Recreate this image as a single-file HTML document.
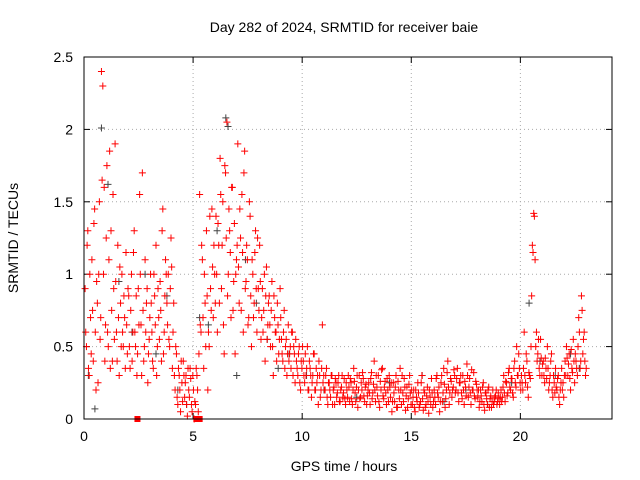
<!DOCTYPE html>
<html><head><meta charset="utf-8"><style>
body{margin:0;background:#fff;}
svg{display:block;font-family:"Liberation Sans",sans-serif;}
</style></head><body>
<svg id="chart" width="640" height="480" viewBox="0 0 640 480">
<rect width="640" height="480" fill="#fff"/>
<text x="344" y="32" font-size="14" text-anchor="middle">Day 282 of 2024, SRMTID for receiver baie</text>
<text transform="translate(18,238) rotate(-90)" font-size="14" text-anchor="middle">SRMTID / TECUs</text>
<text x="344" y="471" font-size="14" text-anchor="middle">GPS time / hours</text>
<g id="grid"></g><g id="ticks"></g><g id="marks"></g>
<rect x="84" y="57" width="528" height="362" fill="none" stroke="#000" stroke-width="1"/>
</svg>
<script>
const xTicks=[0,5,10,15,20];
const yTicks=[0,0.5,1,1.5,2,2.5];
const yTickLabels=["0","0.5","1","1.5","2","2.5"];
const redStart=0.05, redStep=0.0625;
const redValues=[
0.9,0.5,1.3,0.3,0.7,1.1,0.4,1.45,0.2,0.8,1.0,0.55,2.4,2.3,1.6,0.65,
1.75,0.5,1.85,1.3,0.4,0.9,1.9,0.6,1.2,0.3,0.8,1.0,0.5,0.7,1.15,0.45,
0.85,0.35,1.0,0.6,1.3,0.5,0.3,0.9,1.55,0.65,1.7,0.4,1.1,0.8,0.25,0.55,
1.0,0.6,0.35,0.85,1.2,0.5,0.7,0.95,0.4,1.45,0.6,1.1,0.8,1.0,0.5,1.25,
0.35,0.8,0.2,0.45,0.1,0.3,0.05,0.25,0.4,0.15,0.3,0.02,0.2,0.35,0.1,0.3,
0.0,0.1,0.3,0.05,1.55,0.6,1.1,0.35,0.8,1.3,0.2,0.5,0.9,1.45,0.7,1.0,
1.4,0.6,1.2,1.8,0.9,1.5,0.45,1.7,2.05,1.0,1.3,0.7,1.6,0.95,0.45,1.1,
1.9,0.8,1.25,1.55,0.6,1.85,0.95,1.1,0.7,1.4,0.5,1.0,0.8,1.3,0.6,0.9,
1.2,0.55,0.9,0.75,0.4,1.05,0.65,0.85,0.5,0.95,0.3,0.7,0.6,0.8,0.45,0.9,
0.55,0.4,0.75,0.5,0.3,0.65,0.45,0.35,0.6,0.5,0.25,0.4,0.3,0.5,0.2,0.35,
0.4,0.25,0.3,0.5,0.2,0.35,0.15,0.3,0.45,0.2,0.25,0.1,0.3,0.2,0.65,0.3,
0.2,0.35,0.1,0.25,0.15,0.3,0.2,0.1,0.25,0.18,0.3,0.12,0.22,0.15,0.28,0.1,
0.2,0.3,0.12,0.25,0.1,0.35,0.18,0.22,0.08,0.3,0.15,0.2,0.28,0.12,0.24,0.16,
0.25,0.1,0.32,0.18,0.4,0.12,0.22,0.3,0.08,0.2,0.35,0.14,0.26,0.1,0.2,0.3,
0.15,0.05,0.25,0.12,0.3,0.08,0.2,0.35,0.1,0.18,0.28,0.06,0.22,0.14,0.3,0.1,
0.1,0.2,0.05,0.15,0.25,0.08,0.12,0.3,0.06,0.18,0.1,0.22,0.04,0.15,0.28,0.08,
0.2,0.1,0.3,0.15,0.05,0.25,0.12,0.35,0.08,0.2,0.4,0.1,0.28,0.15,0.22,0.3,
0.2,0.35,0.12,0.25,0.18,0.3,0.1,0.22,0.38,0.15,0.28,0.1,0.2,0.32,0.14,0.24,
0.15,0.08,0.2,0.12,0.25,0.06,0.18,0.1,0.22,0.14,0.08,0.2,0.12,0.16,0.1,0.18,
0.1,0.2,0.15,0.3,0.12,0.25,0.18,0.35,0.2,0.28,0.15,0.4,0.22,0.3,0.45,0.25,
0.3,0.2,0.6,0.25,0.4,0.15,0.3,0.5,1.2,1.42,1.1,0.6,0.45,0.35,0.55,0.3,
0.4,0.25,0.35,0.5,0.2,0.3,0.45,0.15,0.25,0.35,0.2,0.3,0.1,0.25,0.2,0.15,
0.4,0.5,0.3,0.45,0.2,0.35,0.55,0.25,0.4,0.3,0.7,0.35,0.85,0.45,0.6,0.3];
const red2Start=0.08, red2Step=0.0625;
const redValues2=[
0.6,1.2,0.35,1.0,0.45,0.75,1.35,0.6,0.95,0.25,1.5,0.7,1.65,1.0,0.4,1.25,
0.6,1.1,0.35,0.75,1.55,0.55,0.95,0.4,0.7,1.05,0.5,0.6,0.85,0.35,0.65,0.9,
0.5,0.75,0.4,1.15,0.6,0.85,0.45,0.65,1.0,0.3,0.75,0.5,0.6,0.9,0.45,0.7,
0.8,0.4,1.0,0.65,0.3,0.9,0.55,0.75,1.3,0.45,0.85,1.0,0.65,0.55,0.9,1.05,
0.6,0.3,0.5,0.15,0.35,0.2,0.4,0.12,0.3,0.25,0.1,0.35,0.15,0.28,0.05,0.2,
0.12,0.35,0.2,0.45,0.65,1.2,0.7,1.0,0.5,0.85,0.6,1.4,0.75,1.05,1.2,0.8,
1.0,1.35,0.8,1.55,1.2,0.65,1.75,1.25,0.85,1.45,1.15,1.6,0.75,1.35,1.0,1.2,
1.05,1.45,0.75,1.15,1.7,0.9,1.2,0.65,1.5,0.85,1.1,0.7,1.15,0.9,1.25,0.75,
0.95,0.7,0.6,1.0,0.85,0.55,0.8,0.65,0.75,0.5,0.85,0.6,0.4,0.65,0.55,0.7,
0.45,0.6,0.35,0.55,0.45,0.4,0.5,0.6,0.3,0.45,0.55,0.35,0.45,0.25,0.4,0.5,
0.3,0.45,0.35,0.2,0.4,0.3,0.25,0.45,0.2,0.35,0.3,0.4,0.15,0.35,0.25,0.2,
0.3,0.15,0.25,0.2,0.3,0.1,0.22,0.28,0.15,0.25,0.12,0.2,0.3,0.18,0.14,0.25,
0.15,0.22,0.28,0.14,0.2,0.26,0.12,0.3,0.2,0.14,0.25,0.32,0.16,0.22,0.1,0.2,
0.18,0.28,0.14,0.24,0.2,0.3,0.16,0.12,0.26,0.34,0.16,0.22,0.18,0.28,0.12,0.22,
0.25,0.12,0.18,0.22,0.08,0.26,0.14,0.2,0.3,0.12,0.22,0.16,0.08,0.24,0.18,0.2,
0.15,0.08,0.2,0.12,0.18,0.1,0.25,0.14,0.2,0.08,0.16,0.12,0.2,0.1,0.18,0.12,
0.15,0.28,0.18,0.22,0.12,0.3,0.18,0.24,0.14,0.32,0.22,0.18,0.26,0.2,0.34,0.18,
0.28,0.18,0.25,0.3,0.14,0.2,0.26,0.16,0.3,0.22,0.18,0.34,0.2,0.16,0.26,0.2,
0.2,0.12,0.16,0.22,0.1,0.18,0.14,0.2,0.08,0.16,0.12,0.1,0.15,0.2,0.12,0.14,
0.15,0.12,0.22,0.18,0.26,0.16,0.32,0.22,0.28,0.18,0.35,0.25,0.5,0.3,0.35,0.2,
0.25,0.35,0.3,0.45,0.22,0.32,0.28,0.85,1.15,1.4,0.5,0.4,0.55,0.3,0.42,0.38,
0.3,0.42,0.28,0.35,0.25,0.4,0.2,0.3,0.18,0.22,0.28,0.15,0.2,0.35,0.25,0.3,
0.3,0.42,0.38,0.28,0.48,0.32,0.4,0.45,0.35,0.5,0.6,0.4,0.75,0.55,0.4,0.35];
const grayTimes=[0.2,0.5,0.8,1.1,1.6,2.2,2.8,3.3,3.8,4.3,4.7,5.3,5.7,6.1,6.5,6.6,7.0,7.4,7.9,8.4,8.9,9.4,10.2,11.0,12.5,14.0,15.5,16.5,17.5,18.5,19.6,20.4,20.9,21.6,22.3,22.7];
const grayValues=[0.3,0.07,2.01,1.62,0.95,0.6,1.0,0.45,0.85,0.2,0.1,0.7,0.65,1.3,2.08,2.02,0.3,1.1,0.8,0.55,0.35,0.45,0.3,0.2,0.15,0.25,0.3,0.12,0.2,0.1,0.25,0.8,0.4,0.3,0.45,0.35];
const squareTimes=[2.45,5.15,5.3];
const squareValues=[0,0,0];

const NS="http://www.w3.org/2000/svg";
const X0=84,X1=612,Y0=419,Y1=57,XMAX=24.2,YMAX=2.5;
function xs(v){return X0+(X1-X0)*v/XMAX;}
function ys(v){return Y0-(Y0-Y1)*v/YMAX;}
function mk(tag,attrs,parent){const e=document.createElementNS(NS,tag);for(const k in attrs)e.setAttribute(k,attrs[k]);parent.appendChild(e);return e;}
const grid=document.getElementById('grid'),ticks=document.getElementById('ticks'),marks=document.getElementById('marks');
xTicks.forEach(t=>{const x=xs(t);
 if(t>0){const g=mk('line',{x1:x,x2:x,y1:Y1,y2:Y0,stroke:'#aaa','stroke-dasharray':'1,3'},grid);
 
 }
 mk('line',{x1:x,x2:x,y1:Y0,y2:Y0-6,stroke:'#000'},ticks);mk('line',{x1:x,x2:x,y1:Y1,y2:Y1+6,stroke:'#000'},ticks);
 const l=mk('text',{x:x,y:Y0+22,'font-size':14,'text-anchor':'middle'},ticks);l.textContent=t;
 
 });
yTicks.forEach((t,i)=>{const y=ys(t);
 if(t>0&&t<YMAX){const g=mk('line',{x1:X0,x2:X1,y1:y,y2:y,stroke:'#aaa','stroke-dasharray':'1,3'},grid);
 
 }
 mk('line',{x1:X0,x2:X0+6,y1:y,y2:y,stroke:'#000'},ticks);mk('line',{x1:X1,x2:X1-6,y1:y,y2:y,stroke:'#000'},ticks);
 const l=mk('text',{x:X0-11,y:y+5,'font-size':14,'text-anchor':'end'},ticks);l.textContent=yTickLabels[i];
 
 });
function plus(t,v,col,name){const x=xs(t),y=ys(v);
 const p=mk('path',{d:`M${x-3.5},${y}h7M${x},${y-3.5}v7`,stroke:col,'stroke-width':1,fill:'none'},marks);
 
 }
grayTimes.forEach((t,i)=>plus(t,grayValues[i],'#444','gray-point'));
redValues.forEach((v,i)=>plus(redStart+i*redStep,v,'#f00','red-point'));
redValues2.forEach((v,i)=>plus(red2Start+i*red2Step,v,'#f00','red-point'));
squareTimes.forEach((t,i)=>{const r=mk('rect',{x:xs(t)-3,y:ys(squareValues[i])-3,width:6,height:6,fill:'#f00'},marks);
 
 });
</script>
</body></html>
